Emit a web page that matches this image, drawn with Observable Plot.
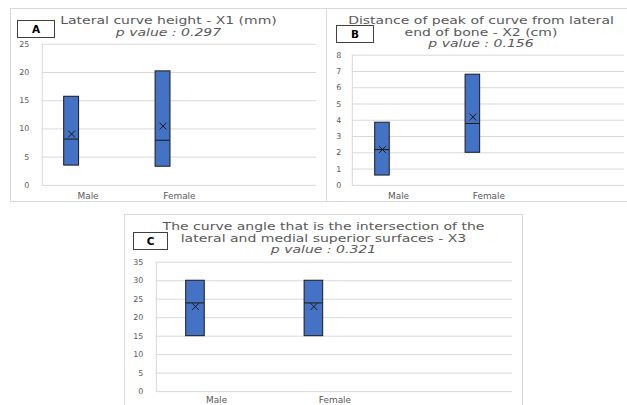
<!DOCTYPE html>
<html><head><meta charset="utf-8">
<script src="https://cdn.jsdelivr.net/npm/d3@7"></script>
<script src="https://cdn.jsdelivr.net/npm/@observablehq/plot@0.6"></script>
<style>
html,body{margin:0;padding:0;background:#fff;overflow:hidden;width:627px;height:405px;font-family:"DejaVu Sans",sans-serif;}
.panel{position:absolute;border:1px solid #d9d9d9;box-sizing:border-box;background:#fff;}
.panel svg{position:absolute;left:0;top:0;}
.title{position:absolute;left:0;right:0;text-align:center;color:#595959;font-size:10px;line-height:11.6px;white-space:nowrap;transform:scaleX(1.4);transform-origin:center;}
.title i{font-style:italic;}
.tag{position:absolute;border:1px solid #404040;background:#fff;font-weight:bold;font-size:10.5px;color:#000;display:flex;align-items:center;justify-content:center;box-sizing:border-box;}
</style></head>
<body>
<div id="root"></div>
<script>
const categories = ["Male", "Female"];
// Panel A: Lateral curve height - X1 (mm)
const aLow = [3.5, 3.3], aHigh = [15.7, 20.2], aMedian = [8.2, 8.0], aMean = [9.1, 10.5];
const aTicks = [0, 5, 10, 15, 20, 25];
// Panel B: Distance of peak of curve from lateral end of bone - X2 (cm)
const bLow = [0.6, 2.0], bHigh = [3.85, 6.8], bMedian = [2.2, 3.8], bMean = [2.2, 4.2];
const bTicks = [0, 1, 2, 3, 4, 5, 6, 7, 8];
// Panel C: curve angle - X3
const cLow = [15, 15], cHigh = [30, 30], cMedian = [24, 24], cMean = [23, 23];
const cTicks = [0, 5, 10, 15, 20, 25, 30, 35];

const root = document.getElementById("root");

function panel(opt) {
  const div = document.createElement("div");
  div.className = "panel";
  Object.assign(div.style, {left: opt.left + "px", top: opt.top + "px", width: opt.width + "px", height: opt.height + "px"});
  const rows = categories.map((c, i) => ({cat: c, low: opt.low[i], high: opt.high[i], med: opt.median[i], mean: opt.mean[i]}));
  const domain = [...categories, "_"];
  const bw = (opt.width - opt.ml - opt.mr) / 3;
  const insetRight = bw - opt.boxL - opt.boxW;
  const dx = opt.boxL + opt.boxW / 2 - bw / 2;
  const svg = Plot.plot({
    width: opt.width, height: opt.height,
    marginLeft: opt.ml, marginRight: opt.mr, marginTop: opt.mt, marginBottom: opt.mb,
    style: {fontFamily: "DejaVu Sans, sans-serif", fontSize: "8px", color: "#595959", background: "transparent"},
    x: {domain, padding: 0, type: "band"},
    y: {domain: [opt.ticks[0], opt.ticks[opt.ticks.length - 1]]},
    marks: [
      Plot.ruleY(opt.ticks, {stroke: "#d9d9d9", strokeWidth: 1}),
      Plot.frame({anchor: "left", stroke: "#d9d9d9"}),
      Plot.axisY({ticks: opt.ticks, tickSize: 0, tickPadding: opt.tp, fill: "#595959", label: null, fontSize: 8, letterSpacing: 0.5}),
      Plot.axisX({tickSize: 0, tickPadding: opt.xp, fill: "#595959", label: null, fontSize: 9, letterSpacing: 1, tickFormat: d => d === "_" ? "" : d}),
      Plot.barY(rows, {x: "cat", y1: "low", y2: "high", fill: "#4472C4", stroke: "#1a1a1a", strokeWidth: 1, insetLeft: opt.boxL, insetRight}),
      Plot.tickY(rows, {x: "cat", y: "med", stroke: "#1a1a1a", strokeWidth: 1, insetLeft: opt.boxL, insetRight}),
      Plot.dot(rows, {x: "cat", y: "mean", symbol: "times", r: 3.2, stroke: "#1a1a1a", strokeWidth: 1, dx})
    ]
  });
  div.appendChild(svg);
  const t = document.createElement("div");
  t.className = "title";
  t.style.top = opt.titleTop + "px";
  if (opt.titleShift) t.style.left = opt.titleShift + "px";
  t.innerHTML = opt.title;
  div.appendChild(t);
  const tag = document.createElement("div");
  tag.className = "tag";
  Object.assign(tag.style, {left: opt.tag[0] + "px", top: opt.tag[1] + "px", width: opt.tag[2] + "px", height: opt.tag[3] + "px"});
  tag.textContent = opt.letter;
  div.appendChild(tag);
  root.appendChild(div);
}

panel({left: 10, top: 8, width: 317, height: 194, ml: 31, mr: 10, mt: 35, mb: 17, tp: 13, xp: 7,
  low: aLow, high: aHigh, median: aMedian, mean: aMean, ticks: aTicks, boxL: 22, boxW: 15,
  title: "Lateral curve height - X1 (mm)<br><i>p value : 0.297</i>", titleTop: 6,
  letter: "A", tag: [6, 11, 38, 18]});

panel({left: 326, top: 8, width: 302, height: 194, ml: 25, mr: 3, mt: 46, mb: 17, tp: 11, xp: 7,
  low: bLow, high: bHigh, median: bMedian, mean: bMean, ticks: bTicks, boxL: 22, boxW: 15,
  title: "Distance of peak of curve from lateral<br>end of bone - X2 (cm)<br><i>p value : 0.156</i>", titleTop: 6, titleShift: 8,
  letter: "B", tag: [9, 16, 38, 18]});

panel({left: 124, top: 214, width: 399, height: 193, ml: 31, mr: 10, mt: 47, mb: 16, tp: 13, xp: 5,
  low: cLow, high: cHigh, median: cMedian, mean: cMean, ticks: cTicks, boxL: 29, boxW: 19,
  title: "The curve angle that is the intersection of the<br>lateral and medial superior surfaces - X3<br><i>p value : 0.321</i>", titleTop: 6,
  letter: "C", tag: [8, 17, 35, 18]});
</script>
</body></html>
